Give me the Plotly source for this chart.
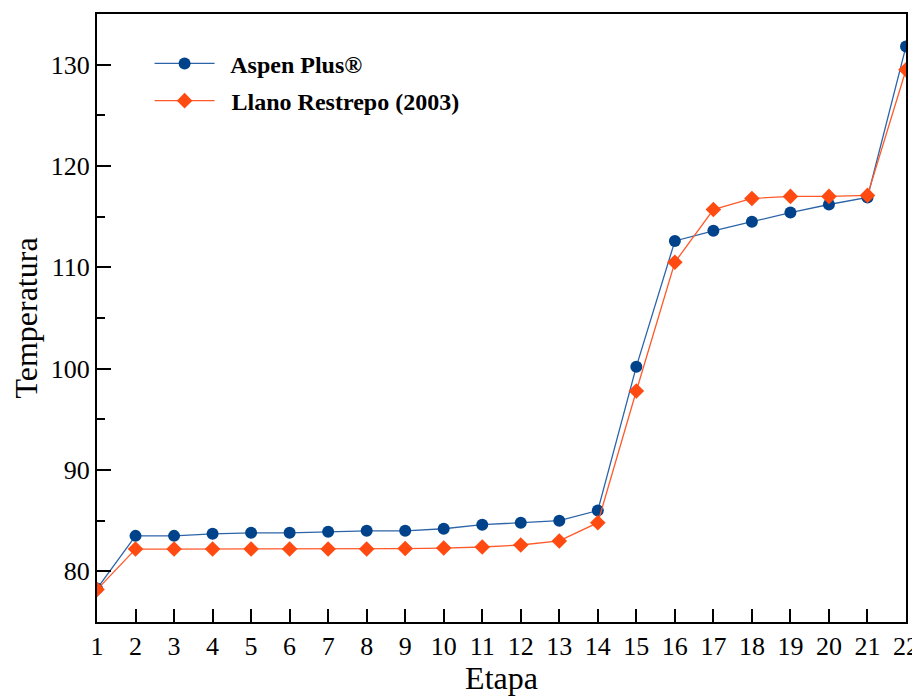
import plotly.graph_objects as go

etapa = list(range(1, 23))
aspen = [78.3, 83.5, 83.5, 83.7, 83.8, 83.8, 83.9, 84.0, 84.0, 84.2, 84.6, 84.8, 85.0, 86.0,
         100.2, 112.6, 113.6, 114.5, 115.4, 116.2, 116.9, 131.8]
llano = [78.2, 82.2, 82.2, 82.2, 82.2, 82.2, 82.2, 82.2, 82.25, 82.3, 82.4, 82.6, 83.0, 84.8,
         97.8, 110.5, 115.7, 116.8, 117.0, 117.0, 117.1, 129.5]

BLUE = "#01438a"
ORANGE = "#ff4a12"
FONT = "Liberation Serif"

fig = go.Figure()
fig.add_trace(go.Scatter(
    x=etapa, y=aspen, mode="lines+markers", name="  Aspen Plus®", legendgroup="a",
    line=dict(color="#2c64a8", width=1.3),
    marker=dict(symbol="circle", size=12, color=BLUE),
))
fig.add_trace(go.Scatter(
    x=etapa, y=llano, mode="lines+markers", name="  Llano Restrepo (2003)", legendgroup="b",
    line=dict(color="#ff5a2a", width=1.3),
    marker=dict(symbol="diamond", size=12, color=ORANGE),
))

fig.update_layout(
    width=912, height=688,
    margin=dict(l=89, r=14, t=6, b=74),
    plot_bgcolor="white", paper_bgcolor="white",
    font=dict(family=FONT, size=26, color="black"),
    showlegend=True,
    legend=dict(
        x=0.065, y=0.955, xanchor="left", yanchor="top",
        bgcolor="rgba(0,0,0,0)", tracegroupgap=3, itemwidth=60,
        font=dict(family=FONT, size=24, color="black", weight="bold"),
    ),
    xaxis=dict(
        range=[1, 22], tickmode="array", tickvals=etapa,
        ticks="inside", ticklen=13, tickwidth=2, tickcolor="black",
        showline=True, linecolor="black", linewidth=2, mirror=True,
        showgrid=False, zeroline=False, automargin=False,
        ticklabeloverflow="allow",
        title=dict(text="Etapa", font=dict(size=32)),
        tickfont=dict(size=26),
    ),
    yaxis=dict(
        range=[75, 135], tickmode="array", tickvals=[80, 90, 100, 110, 120, 130],
        ticks="inside", ticklen=14, tickwidth=2, tickcolor="black",
        showline=True, linecolor="black", linewidth=2, mirror=True,
        showgrid=False, zeroline=False, automargin=False,
        minor=dict(tickvals=[75, 85, 95, 105, 115, 125, 135], ticks="inside", ticklen=8,
                   tickwidth=2, tickcolor="black"),
        title=dict(text="Temperatura", font=dict(size=32), standoff=12),
        tickfont=dict(size=26),
    ),
)

fig.write_html("out.html")
